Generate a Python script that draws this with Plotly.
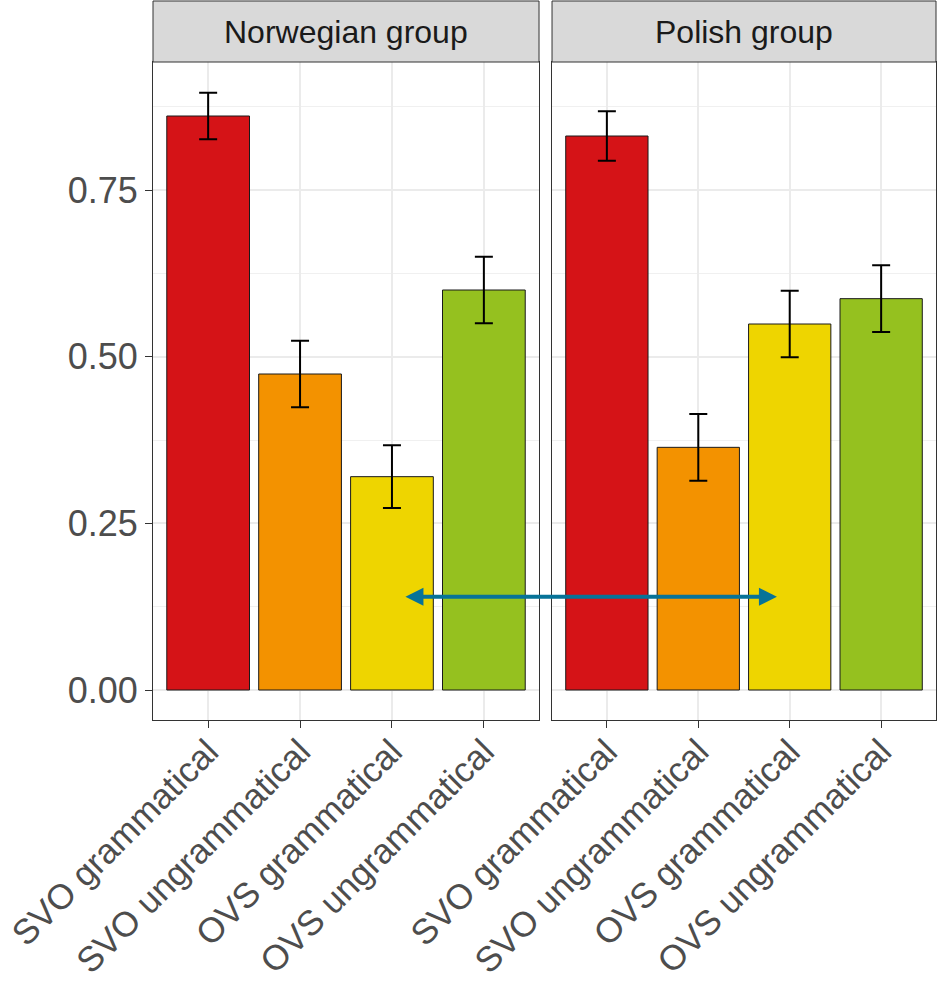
import plotly.graph_objects as go

categories = ["SVO grammatical", "SVO ungrammatical", "OVS grammatical", "OVS ungrammatical"]
groups = ["Norwegian group", "Polish group"]
norwegian_mean = [0.861, 0.474, 0.320, 0.600]
norwegian_se = [0.035, 0.050, 0.047, 0.050]
polish_mean = [0.831, 0.364, 0.549, 0.587]
polish_se = [0.037, 0.050, 0.050, 0.050]
bar_colors = ["#d51317", "#f39200", "#eed500", "#95c11f"]
y_ticks = [0.0, 0.25, 0.5, 0.75]
y_tick_labels = ["0.00", "0.25", "0.50", "0.75"]
# arrow: from Norwegian panel (category index) to Polish panel (category index), at height
arrow_from_x = 2.13
arrow_to_x = 1.86
arrow_y = 0.14

W, H = 938, 981
ML, MR, MT, MB = 153, 2, 62, 261
plot_w = W - ML - MR
dom1 = [0.0, 0.493]
dom2 = [0.5096, 1.0]
xr = [-0.6, 3.6]
yr = [-0.045, 0.942]

FONT = "Liberation Sans, Arial, sans-serif"

fig = go.Figure()
for i, (means, ses) in enumerate([(norwegian_mean, norwegian_se), (polish_mean, polish_se)]):
    fig.add_trace(go.Bar(
        x=categories, y=means,
        marker=dict(color=bar_colors, line=dict(color="#1a1a1a", width=1)),
        width=0.9,
        error_y=dict(type="data", array=ses, visible=True, color="black", thickness=2, width=9),
        xaxis="x" if i == 0 else "x2", yaxis="y" if i == 0 else "y2",
        showlegend=False,
    ))

axis_common = dict(
    showline=True, mirror=True, linecolor="#333333", linewidth=1,
    showgrid=True, gridcolor="#ebebeb", gridwidth=1.5,
    ticks="outside", ticklen=7, tickcolor="#333333", tickwidth=1,
    tickfont=dict(family=FONT, size=36, color="#4d4d4d"),
    zeroline=False, automargin=False,
)
xfont = dict(family=FONT, size=35, color="#4d4d4d")
x_common = {k: v for k, v in axis_common.items() if k != "tickfont"}

fig.update_layout(
    width=W, height=H,
    margin=dict(l=ML, r=MR, t=MT, b=MB),
    paper_bgcolor="white", plot_bgcolor="white",
    bargap=0.1,
    xaxis=dict(domain=dom1, range=xr, type="category", tickangle=-45, ticklabelstandoff=-11,
               tickfont=xfont, categoryorder="array", categoryarray=categories, **x_common),
    xaxis2=dict(domain=dom2, range=xr, type="category", tickangle=-45, ticklabelstandoff=-11,
                tickfont=xfont, categoryorder="array", categoryarray=categories, **x_common),
    yaxis=dict(domain=[0, 1], range=yr, tickvals=y_ticks, ticktext=y_tick_labels,
               minor=dict(showgrid=True, gridcolor="#f0f0f0", gridwidth=0.8, dtick=0.125, tick0=0.125, ticks=""),
               **axis_common),
    yaxis2=dict(domain=[0, 1], range=yr, tickvals=y_ticks, showticklabels=False, ticks="",
                anchor="x2", matches="y",
                minor=dict(showgrid=True, gridcolor="#f0f0f0", gridwidth=0.8, dtick=0.125, tick0=0.125, ticks=""),
                **{k: v for k, v in axis_common.items() if k not in ("ticks",)}),
)

plot_h = H - MT - MB
strip_top = 1 + (MT - 1) / plot_h
shapes = []
annotations = []
for dom, name in zip([dom1, dom2], groups):
    shapes.append(dict(type="rect", xref="paper", yref="paper", x0=dom[0], x1=dom[1],
                       y0=1.0, y1=strip_top, fillcolor="#d9d9d9",
                       line=dict(color="#333333", width=1), layer="above"))
    annotations.append(dict(xref="paper", yref="paper", x=(dom[0] + dom[1]) / 2,
                            y=(1.0 + strip_top) / 2, text=name, showarrow=False,
                            font=dict(family=FONT, size=32, color="#1a1a1a"),
                            xanchor="center", yanchor="middle"))

def to_paper(v, dom):
    return dom[0] + (v - xr[0]) / (xr[1] - xr[0]) * (dom[1] - dom[0])

tail_p = to_paper(arrow_from_x, dom1)
head_p = to_paper(arrow_to_x, dom2)
annotations.append(dict(xref="paper", yref="y", x=head_p, y=arrow_y,
                        axref="pixel", ayref="pixel", ax=(tail_p - head_p) * plot_w, ay=0,
                        text="", showarrow=True, arrowhead=2, startarrowhead=2,
                        arrowside="end+start", arrowsize=0.9, startarrowsize=0.9,
                        arrowwidth=4, arrowcolor="#077398"))

fig.update_layout(shapes=shapes, annotations=annotations)
fig.write_html("out.html", config={"displayModeBar": False},
               post_script="document.body.style.margin='0';document.body.style.padding='0';")
